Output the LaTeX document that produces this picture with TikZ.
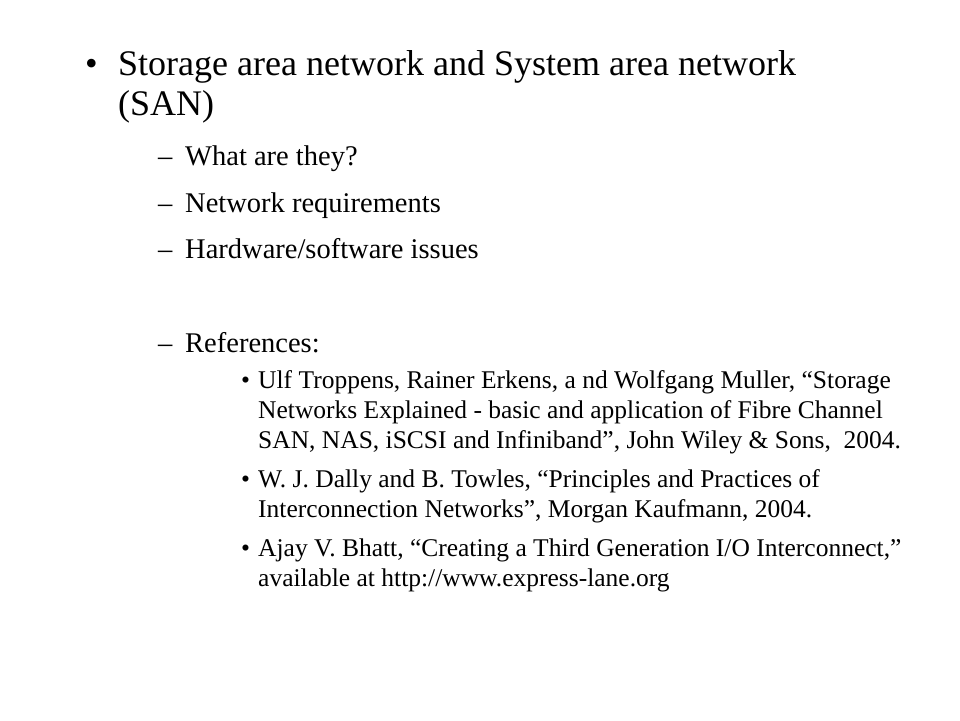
\documentclass[tikz,border=0pt]{standalone}
\usepackage{fontspec}
\setmainfont{Liberation Serif}
\begin{document}
\begin{tikzpicture}[x=1pt,y=-1pt,
  t1/.style={anchor=base west,inner sep=0pt,font=\fontsize{36}{40}\selectfont},
  t2/.style={anchor=base west,inner sep=0pt,font=\fontsize{28.5}{32}\selectfont},
  t3/.style={anchor=base west,inner sep=0pt,font=\fontsize{25.5}{29}\selectfont}]
\useasboundingbox (0,0) rectangle (960,720);
\node[t1] (b1) at (85,75) {•};
\node[t1] (l1) at (118,75) {Storage area network and System area network};
\node[t1] (l2) at (118,115) {(SAN)};
\foreach \y/\s [count=\i] in {165/{What are they?},212/{Network requirements},258/{Hardware/software issues},352/{References:}}{
  \node[t2] (d\i) at (158,\y) {–};
  \node[t2] (s\i) at (185,\y) {\s};
}
\foreach \y [count=\i] in {388,487,556}{\node[t3] (r\i) at (241,\y) {•};}
\node[t3] (a1) at (258,388) {Ulf Troppens, Rainer Erkens, a nd Wolfgang Muller, “Storage};
\node[t3] (a2) at (258,418) {Networks Explained - basic and application of Fibre Channel};
\node[t3] (a3) at (258,448) {SAN, NAS, iSCSI and Infiniband”, John Wiley \& Sons, \ 2004.};
\node[t3] (a4) at (258,487) {W. J. Dally and B. Towles, “Principles and Practices of};
\node[t3] (a5) at (258,517) {Interconnection Networks”, Morgan Kaufmann, 2004.};
\node[t3] (a6) at (258,556) {Ajay V. Bhatt, “Creating a Third Generation I/O Interconnect,”};
\node[t3] (a7) at (258,586) {available at http://www.express-lane.org};
\end{tikzpicture}
\end{document}
